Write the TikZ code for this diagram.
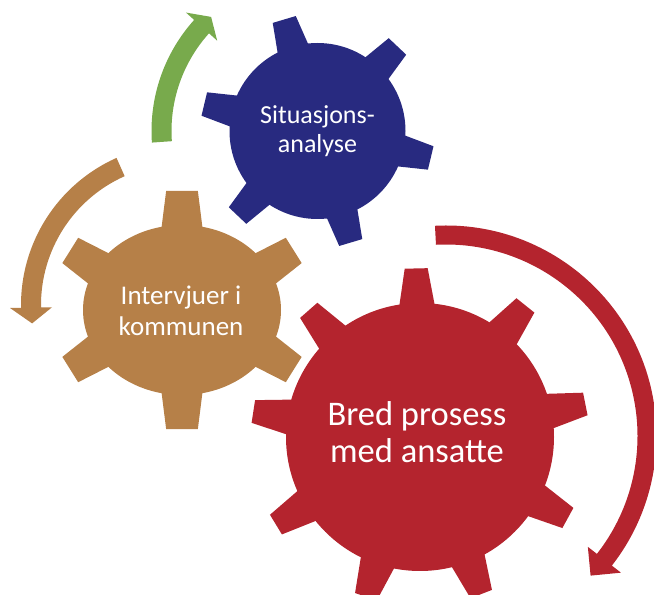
\documentclass[tikz,border=0pt]{standalone}
\usepackage{fontspec}
\setmainfont{Carlito}
\definecolor{gearblue}{RGB}{40,42,128}
\definecolor{gearbrown}{RGB}{182,128,72}
\definecolor{gearred}{RGB}{180,36,46}
\definecolor{arrowgreen}{RGB}{120,170,76}
\tikzset{
  gearlabel/.style={text=white, align=center, inner sep=0pt},
}
\begin{document}
\begin{tikzpicture}[x=1pt,y=1pt]
\useasboundingbox (0,0) rectangle (654,595);
\clip (0,0) rectangle (654,595);

% ---------- red gear ----------
\begin{scope}[shift={(420,158)}]
  \fill[gearred] (0,0) circle[radius=134];
  \foreach \k in {0,...,8}{
    \pgfmathsetmacro{\a}{91.3+40*\k}
    \fill[gearred] (\a-7.9:131) -- (\a-3.9:169) -- (\a+3.9:169) -- (\a+7.9:131) -- cycle;
  }
\end{scope}

% ---------- brown gear ----------
\begin{scope}[shift={(182,285)}]
  \fill[gearbrown] (0,0) ellipse[x radius=99, y radius=85];
  \foreach \k in {0,...,5}{
    \pgfmathsetmacro{\a}{90+60*\k}
    \fill[gearbrown] (\a-12.5:96 and 82) -- (\a-7:130 and 120) -- (\a+7:130 and 120) -- (\a+12.5:96 and 82) -- cycle;
  }
\end{scope}

% ---------- blue gear ----------
\begin{scope}[shift={(317.5,464)}]
  \fill[gearblue] (0,0) circle[radius=88];
  \foreach \k in {0,...,5}{
    \pgfmathsetmacro{\a}{46.6+60*\k}
    \fill[gearblue] (\a-11:85) -- (\a-5.9:117) -- (\a+5.9:117) -- (\a+11:85) -- cycle;
  }
\end{scope}

% ---------- green arrow (around blue gear) ----------
\begin{scope}[shift={(317.5,464)}]
  \fill[arrowgreen] (184:166) arc[start angle=184, end angle=138, radius=166]
    -- (138:177) -- (133:156) -- (138:135) -- (138:146)
    arc[start angle=138, end angle=184, radius=146] -- cycle;
\end{scope}

% ---------- brown arrow (around brown gear) ----------
\begin{scope}[shift={(182,290)}]
  \fill[gearbrown] (114:161) arc[start angle=114, end angle=181, radius=161]
    -- (181:172) -- (187:151) -- (181:130) -- (181:141)
    arc[start angle=181, end angle=114, radius=141] -- cycle;
\end{scope}

% ---------- red arrow (around red gear) ----------
\begin{scope}[shift={(446,159)}]
  \fill[gearred] (93:210.5) arc[start angle=93, end angle=-38, radius=210.5]
    -- (-38:222) -- (-44:201) -- (-38:180) -- (-38:191.5)
    arc[start angle=-38, end angle=93, radius=191.5] -- cycle;
\end{scope}

% ---------- labels ----------
\node[gearlabel, font=\fontsize{26}{29.5}\selectfont] (sit) at (317.5,464) {Situasjons-\\analyse};
\node[gearlabel, font=\fontsize{27}{31}\selectfont] (int) at (181,284) {Intervjuer i\\kommunen};
\node[gearlabel, font=\fontsize{34.5}{37}\selectfont] (bred) at (417,162.5) {Bred prosess\\med ansatte};
\end{tikzpicture}
\end{document}
